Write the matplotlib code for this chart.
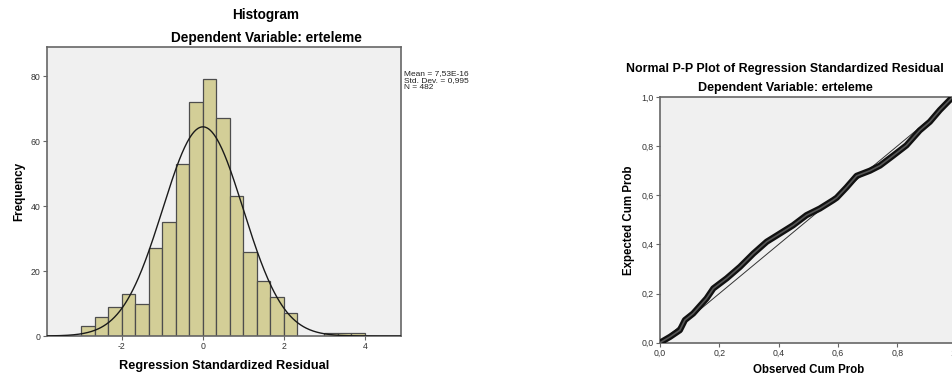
import numpy as np
import matplotlib.pyplot as plt

plt.rcParams['font.family'] = ['Liberation Sans', 'DejaVu Sans']
plt.rcParams['axes.unicode_minus'] = False

# histogram of standardized residuals (bin width 1/3)
bin_left = [-3.0, -2.667, -2.333, -2.0, -1.667, -1.333, -1.0, -0.667, -0.333,
            0.0, 0.333, 0.667, 1.0, 1.333, 1.667, 2.0, 3.0, 3.333, 3.667]
counts = [3, 6, 9, 13, 10, 27, 35, 53, 72, 79, 67, 43, 26, 17, 12, 7, 1, 1, 1]
bin_width = 1 / 3
res_mean = 7.53e-16
res_sd = 0.995
n_obs = 482
hist_xticks = [-2, 0, 2, 4]
hist_yticks = [0, 20, 40, 60, 80]

# normal P-P plot, traced along the band of points
observed = [0.0, 0.034, 0.067, 0.084, 0.112, 0.157, 0.180, 0.225, 0.270, 0.315,
            0.360, 0.404, 0.449, 0.494, 0.539, 0.584, 0.596, 0.629, 0.663, 0.708,
            0.742, 0.787, 0.831, 0.876, 0.910, 0.944, 0.987, 1.0]
expected = [0.0, 0.024, 0.051, 0.092, 0.119, 0.180, 0.221, 0.262, 0.309, 0.363,
            0.411, 0.444, 0.478, 0.519, 0.546, 0.580, 0.590, 0.632, 0.679, 0.700,
            0.721, 0.762, 0.803, 0.864, 0.899, 0.947, 1.0, 1.0]
pp_ticks = [0.0, 0.2, 0.4, 0.6, 0.8, 1.0]
pp_labels = ["0,0", "0,2", "0,4", "0,6", "0,8", "1,0"]

bg = "#f0f0f0"
frame = "#666666"

fig = plt.figure(figsize=(9.53, 3.76), dpi=100)


def style(ax):
    ax.set_facecolor(bg)
    for s in ax.spines.values():
        s.set_color(frame)
        s.set_linewidth(1.2)
    ax.tick_params(direction="out", length=3, width=0.8, color=frame,
                   labelsize=6.3, labelcolor="#333333", pad=1.5)


# ---- histogram ----
ax1 = fig.add_axes([47 / 953, 40 / 376, 354 / 953, 289 / 376])
style(ax1)
ax1.bar(bin_left, counts, width=bin_width, align="edge", color="#d3ce97",
        edgecolor="#4d4d4d", linewidth=0.9, zorder=2)
xs = np.linspace(-3.85, 4.89, 400)
pdf = np.exp(-0.5 * ((xs - res_mean) / res_sd) ** 2) / (res_sd * np.sqrt(2 * np.pi))
ax1.plot(xs, n_obs * bin_width * pdf, color="#1a1a1a", linewidth=1.0, zorder=3)
ax1.set_xlim(-3.85, 4.89)
ax1.set_ylim(0, 89)
ax1.set_xticks(hist_xticks)
ax1.set_yticks(hist_yticks)
ax1.set_xlabel("Regression Standardized Residual", fontsize=9.2,
               fontweight="bold", labelpad=6)
ax1.set_ylabel("Frequency", fontsize=8.4, fontweight="bold", labelpad=4)

fig.text(266 / 953, 1 - 15 / 376, "Histogram", ha="center", va="center",
         fontsize=9.8, fontweight="bold")
fig.text(266 / 953, 1 - 38 / 376, "Dependent Variable: erteleme", ha="center",
         va="center", fontsize=9.8, fontweight="bold")
fig.text(404 / 953, 1 - 70 / 376,
         "Mean = 7,53E-16\nStd. Dev. = 0,995\nN = %d" % n_obs,
         ha="left", va="top", fontsize=6, linespacing=1.0, color="#222222")

# ---- P-P plot ----
ax2 = fig.add_axes([660 / 953, 33.3 / 376, 296.5 / 953, 245.7 / 376])
style(ax2)
ax2.plot([0, 1], [0, 1], color="#333333", linewidth=0.7, zorder=2)
ax2.plot(observed, expected, color="#111111", linewidth=4.5,
         solid_capstyle="round", zorder=3)
ax2.plot(observed, expected, color="#555555", linewidth=1.2, zorder=4)
ax2.set_xlim(0, 1)
ax2.set_ylim(0, 1)
ax2.set_xticks(pp_ticks)
ax2.set_xticklabels(pp_labels)
ax2.set_yticks(pp_ticks)
ax2.set_yticklabels(pp_labels)
ax2.set_xlabel("Observed Cum Prob", fontsize=8.3, fontweight="bold", labelpad=4)
ax2.set_ylabel("Expected Cum Prob", fontsize=8.3, fontweight="bold", labelpad=5)

fig.text(785 / 953, 1 - 69 / 376,
         "Normal P-P Plot of Regression Standardized Residual",
         ha="center", va="center", fontsize=8.9, fontweight="bold")
fig.text(785 / 953, 1 - 88 / 376, "Dependent Variable: erteleme",
         ha="center", va="center", fontsize=9.0, fontweight="bold")

fig.savefig("out.png", dpi=100, facecolor="white")
